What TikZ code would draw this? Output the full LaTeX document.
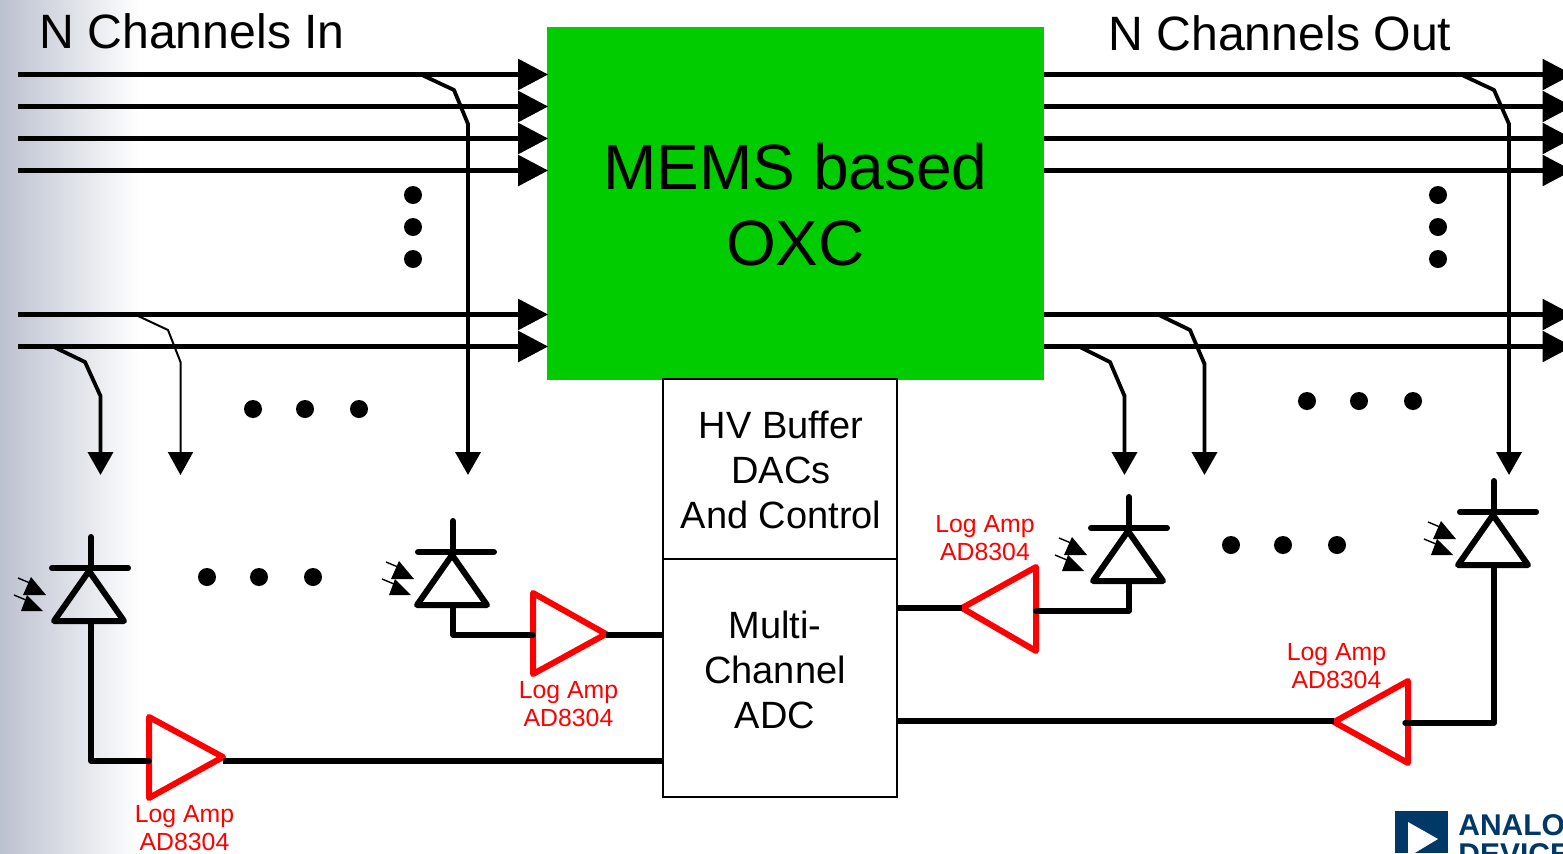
\documentclass[tikz,border=0pt]{standalone}
\usepackage{fontspec}
\setmainfont{Liberation Sans}
\usetikzlibrary{arrows.meta,calc}
\definecolor{oxcgreen}{RGB}{0,204,0}
\definecolor{adiblue}{RGB}{0,56,104}
\definecolor{edgegray}{RGB}{188,193,208}
\definecolor{edgemid}{RGB}{236,238,243}
\tikzset{
  px/.style={x=0.5pt,y=-0.5pt},
  chan/.style={line width=2.7pt,shorten >=-0.8pt,-{Triangle[length=15pt,width=15pt]}},
  drop/.style={line width=1.9pt,line join=round,-{Triangle[length=11.5pt,width=12.5pt]}},
  thindrop/.style={drop,line width=1pt},
  wire/.style={line width=2.7pt,line cap=round,line join=round},
  buswire/.style={line width=2.7pt},
  diodeline/.style={line width=3pt,line cap=round,line join=round},
  amp/.style={draw=red,line width=3pt,line join=round},
  dot/.style={circle,fill=black,inner sep=0pt,minimum size=9pt},
  boxnode/.style={draw=black,line width=0.7pt,fill=white,inner sep=0pt,minimum width=117pt},
  head/.style={font=\fontsize{24.1}{28}\selectfont,inner sep=0pt},
  boxtext/.style={font=\fontsize{19}{22.5}\selectfont,align=center,inner sep=0pt},
  amptext/.style={font=\fontsize{12.4}{14}\selectfont,text=red,align=center,inner sep=0pt},
  logotext/.style={font=\fontsize{15}{15}\bfseries\selectfont,text=adiblue,anchor=base west,inner sep=0pt}
}
% #1 name, #2 stem x, #3 bar y, #4 bar left x, #5 triangle left x, #6 photon reference x
\newcommand{\photodiode}[6]{%
  \coordinate (#1top) at (#2,#3-31);
  \coordinate (#1bot) at (#2,#3+53);
  \draw[diodeline] (#1top) -- (#2,#3);
  \draw[diodeline] (#4,#3) -- ++(76,0);
  \draw[diodeline] (#5+35,#3+3) -- (#5,#3+53) -- (#5+70,#3+53) -- cycle;
  \fill (#6-21,#3+9) -- (#6-29,#3+27) -- (#6-6,#3+27) -- cycle;
  \fill (#6-25,#3+27) -- (#6-31,#3+43) -- (#6-9,#3+43) -- cycle;
  \draw[line width=0.7pt] (#6-34,#3+10) -- (#6-22,#3+15);
  \draw[line width=0.7pt] (#6-38,#3+27) -- (#6-26,#3+32);
}
\begin{document}
\begin{tikzpicture}[px]
\clip (0,0) rectangle (1563,853);
\fill[white] (0,0) rectangle (1563,853);
\shade[left color=edgegray,middle color=edgemid,right color=white] (0,0) rectangle (140,853);

% OXC and control boxes
\node[draw=none,fill=oxcgreen,minimum width=248.5pt,minimum height=176.5pt,inner sep=0pt] (oxc) at (795.5,203.5) {};
\node[boxtext,font=\fontsize{32}{38}\selectfont] (oxctext) at (795.5,205) {MEMS based\\OXC};
\node[boxnode,minimum height=90pt] (hv) at (780,469) {};
\node[boxnode,minimum height=119pt] (adc) at (780,678) {};
\node[boxtext] (hvtext) at (781,469.5) {HV Buffer\\DACs\\And Control};
\node[boxtext] (adctext) at (775,670) {Multi-\\Channel\\ADC};

\node[head,anchor=west] (inlabel) at (39,31) {N Channels In};
\node[head,anchor=west] (outlabel) at (1108,33) {N Channels Out};

% Input and output channels
\foreach \n/\y in {1/74.5,2/106.5,3/138.5,4/170.5,5/314.5,6/346.5}{
  \coordinate (in\n) at (18,\y);
  \coordinate (out\n) at (1571,\y);
  \draw[chan] (in\n) -- (in\n -| oxc.west);
  \draw[chan] (out\n -| oxc.east) -- (out\n);
}

% Tapped monitor lines
\coordinate (tA) at (100.5,475);
\coordinate (tB) at (180.5,475);
\coordinate (tC) at (468,475);
\coordinate (tD) at (1124.5,475);
\coordinate (tE) at (1204.5,475);
\coordinate (tF) at (1509,475);
\draw[drop] (54,347) -- (85,362) -- (100.5,396) -- (tA);
\draw[thindrop] (136,315) -- (168,330) -- (180.5,362) -- (tB);
\draw[drop] (422,75) -- (454,90) -- (468,124) -- (tC);
\draw[drop] (1080,347) -- (1110,362) -- (1124.5,396) -- (tD);
\draw[drop] (1159,315) -- (1190,330) -- (1204.5,364) -- (tE);
\draw[drop] (1462,75) -- (1494,90) -- (1509,124) -- (tF);

% Ellipsis dots
\foreach \n/\x/\y in {a/413/195,b/413/227,c/413/259,
  d/1438/195,e/1438/227,f/1438/259,
  g/253/409,h/305/409,i/359/409,
  j/207/577,k/259/577,l/313/577,
  m/1307/401,n/1359/401,o/1413/401,
  p/1231/545,q/1283/545,r/1337/545}{
  \node[dot] (dot\n) at (\x,\y) {};
}

% Photodiodes
\photodiode{da}{91}{568}{52}{54}{52}
\photodiode{db}{453}{552}{418}{417}{420}
\photodiode{dc}{1129}{528}{1091}{1093}{1093}
\photodiode{dd}{1494}{512}{1460}{1458}{1462}

% Amplifiers
\coordinate (a1in) at (149,761);
\coordinate (a1out) at (223,761);
\coordinate (a2in) at (533,635);
\coordinate (a2out) at (606,635);
\coordinate (a3in) at (1036,611);
\coordinate (a3out) at (962,608);
\coordinate (a4in) at (1405,723);
\coordinate (a4out) at (1334,721);
\draw[amp] (149,717) -- (149,798) -- (223,757) -- cycle;
\draw[amp] (533,593) -- (533,674) -- (606,634) -- cycle;
\draw[amp] (1036,567) -- (1036,651) -- (962,608) -- cycle;
\draw[amp] (1408,681) -- (1408,763) -- (1334,722) -- cycle;

% Wiring
\draw[wire] (dabot) -- (dabot |- a1in) -- (a1in);
\draw[buswire] (a1out) -- (a1out -| adc.west);
\draw[wire] (dbbot) -- (dbbot |- a2in) -- (a2in);
\draw[buswire] (a2out) -- (a2out -| adc.west);
\draw[wire] (dcbot) -- (dcbot |- a3in) -- (a3in);
\draw[buswire] (a3out) -- (a3out -| adc.east);
\draw[wire] (ddbot) -- (ddbot |- a4in) -- (a4in);
\draw[buswire] (a4out) -- (a4out -| adc.east);

% Amp labels
\node[amptext] (l1) at (184.5,828) {Log Amp\\AD8304};
\node[amptext] (l2) at (568.5,704) {Log Amp\\AD8304};
\node[amptext] (l3) at (985,538) {Log Amp\\AD8304};
\node[amptext] (l4) at (1336.5,666) {Log Amp\\AD8304};

% Logo
\fill[adiblue] (1395,811) rectangle (1448,853);
\fill[white] (1408,822) -- (1408,857) -- (1438,839) -- cycle;
\node[logotext] (logo1) at (1458,835) {ANALOG};
\node[logotext] (logo2) at (1458,864) {DEVICES};
\end{tikzpicture}
\end{document}
